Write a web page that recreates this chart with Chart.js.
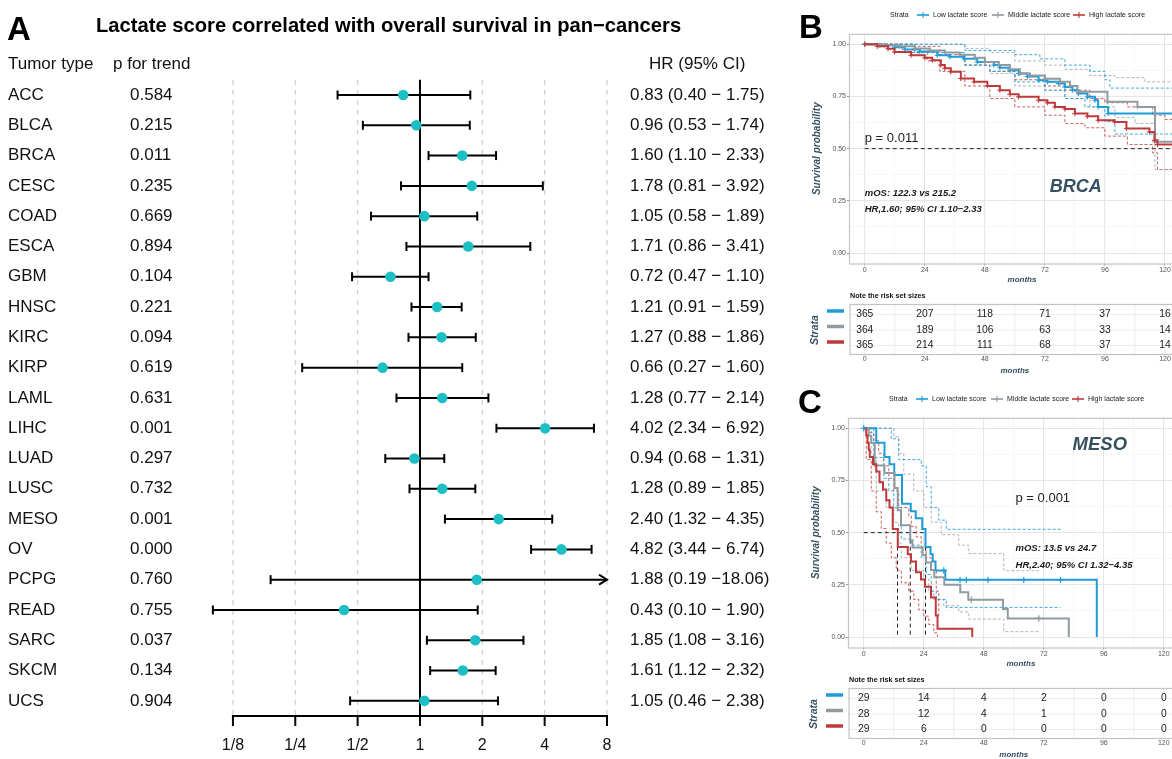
<!DOCTYPE html>
<html><head><meta charset="utf-8">
<script src="https://cdn.jsdelivr.net/npm/chart.js@4.4.1/dist/chart.umd.min.js"></script>
<style>
html,body{margin:0;padding:0;background:#fff;overflow:hidden;width:1172px;height:759px;position:relative;}
canvas{position:absolute;}
</style></head><body>
<canvas id="forest" width="780" height="759" style="left:0;top:0"></canvas>
<canvas id="kmB" width="420" height="380" style="left:780px;top:0"></canvas>
<canvas id="kmC" width="420" height="380" style="left:779px;top:384px"></canvas>
<script>
// ---------------- Panel A data ----------------
const tumorTypes = ['ACC','BLCA','BRCA','CESC','COAD','ESCA','GBM','HNSC','KIRC','KIRP','LAML','LIHC','LUAD','LUSC','MESO','OV','PCPG','READ','SARC','SKCM','UCS'];
const pTrend = ['0.584','0.215','0.011','0.235','0.669','0.894','0.104','0.221','0.094','0.619','0.631','0.001','0.297','0.732','0.001','0.000','0.760','0.755','0.037','0.134','0.904'];
const hrValues = [0.83,0.96,1.60,1.78,1.05,1.71,0.72,1.21,1.27,0.66,1.28,4.02,0.94,1.28,2.40,4.82,1.88,0.43,1.85,1.61,1.05];
const hrLower  = [0.40,0.53,1.10,0.81,0.58,0.86,0.47,0.91,0.88,0.27,0.77,2.34,0.68,0.89,1.32,3.44,0.19,0.10,1.08,1.12,0.46];
const hrUpper  = [1.75,1.74,2.33,3.92,1.89,3.41,1.10,1.59,1.86,1.60,2.14,6.92,1.31,1.85,4.35,6.74,18.06,1.90,3.16,2.32,2.38];
const axisTicks = [1/8,1/4,1/2,1,2,4,8];
const axisTickLabels = ['1/8','1/4','1/2','1','2','4','8'];

// ---------------- Panel B (BRCA) data: [months, survival] ----------------
const brcaLow  = [[0,1],[6,0.995],[12,0.985],[16,0.975],[22,0.965],[29,0.947],[34,0.94],[39.7,0.931],[45,0.915],[51.6,0.90],[54,0.888],[58,0.875],[61.5,0.86],[65,0.845],[69.5,0.828],[73,0.82],[77.4,0.812],[80,0.795],[83,0.78],[85.4,0.764],[89,0.748],[92,0.732],[93.3,0.70],[97.3,0.668],[135,0.668]];
const brcaMid  = [[0,1],[8,0.995],[14,0.99],[20,0.98],[26,0.97],[32,0.96],[38,0.95],[44,0.935],[48,0.915],[53.6,0.90],[58,0.88],[62,0.86],[66,0.85],[72,0.835],[78,0.82],[82,0.80],[85,0.772],[97,0.724],[109,0.70],[116,0.533],[135,0.533]];
const brcaHigh = [[0,1],[5,0.99],[9.3,0.979],[11.9,0.963],[18.5,0.947],[24,0.935],[27,0.923],[30.4,0.90],[32,0.885],[34.4,0.868],[38.4,0.836],[43.7,0.82],[49,0.80],[54,0.78],[58,0.76],[61.5,0.748],[69.5,0.732],[73,0.72],[76,0.70],[80,0.69],[84,0.668],[89,0.655],[93.3,0.636],[99.9,0.628],[104.6,0.597],[113.8,0.58],[115.8,0.54],[117,0.52],[135,0.52]];
const brcaLowUp  = [[0,1],[20,1.0],[40,0.97],[60,0.95],[70,0.93],[80,0.90],[90,0.87],[96,0.83],[98,0.79],[135,0.78]];
const brcaLowLo  = [[0,1],[20,0.96],[40,0.90],[50,0.87],[60,0.82],[72,0.78],[80,0.74],[88,0.70],[96,0.63],[100,0.57],[135,0.56]];
const brcaMidUp  = [[0,1],[20,1.0],[40,0.98],[50,0.96],[60,0.92],[72,0.90],[80,0.88],[90,0.85],[100,0.84],[112,0.82],[135,0.80]];
const brcaMidLo  = [[0,1],[20,0.96],[40,0.90],[50,0.86],[60,0.80],[72,0.78],[80,0.74],[90,0.70],[100,0.65],[108,0.62],[116,0.40],[135,0.40]];
const brcaHighUp = [[0,1],[20,0.99],[30,0.95],[40,0.90],[50,0.87],[60,0.83],[72,0.80],[80,0.78],[90,0.74],[96,0.72],[105,0.70],[115,0.66],[120,0.64],[135,0.64]];
const brcaHighLo = [[0,1],[15,0.96],[25,0.92],[30,0.87],[40,0.80],[50,0.74],[60,0.70],[72,0.66],[80,0.62],[88,0.60],[96,0.56],[105,0.52],[115,0.48],[117,0.40],[135,0.40]];
const brcaRiskLow  = [365,207,118,71,37,16];
const brcaRiskMid  = [364,189,106,63,33,14];
const brcaRiskHigh = [365,214,111,68,37,14];

// ---------------- Panel C (MESO) data ----------------
const mesoLow  = [[0,1],[5,0.931],[8.3,0.862],[10.3,0.828],[12.2,0.776],[15.3,0.638],[18.8,0.603],[20.8,0.569],[23.4,0.517],[24.7,0.431],[26.7,0.397],[27.6,0.362],[28.7,0.319],[32.6,0.274],[93.2,0]];
const mesoMid  = [[0,1],[2,0.964],[3,0.929],[4.4,0.821],[8.3,0.786],[12.3,0.714],[13.6,0.607],[14.9,0.536],[18.6,0.464],[19.5,0.429],[23.5,0.393],[24.9,0.357],[26.9,0.321],[28.2,0.286],[32.2,0.25],[38.6,0.214],[41.8,0.179],[55.7,0.134],[57.6,0.089],[82,0]];
const mesoHigh = [[0,1],[1,0.966],[1.5,0.931],[2,0.897],[2.4,0.862],[3.7,0.828],[5,0.793],[6.3,0.741],[7.7,0.707],[9,0.655],[10.3,0.621],[11.6,0.517],[13.6,0.431],[17.6,0.397],[18.9,0.362],[20.9,0.31],[22.9,0.276],[24.5,0.241],[26.9,0.19],[28.8,0.103],[29.5,0.04],[43.4,0]];
const mesoLowUp  = [[0,1],[11,0.95],[14,0.85],[23,0.82],[25,0.72],[27,0.62],[30,0.56],[33,0.516],[78.7,0.516]];
const mesoLowLo  = [[0,1],[4,0.86],[8,0.76],[10,0.70],[12,0.62],[15,0.47],[19,0.44],[23,0.38],[25,0.30],[27,0.22],[29,0.18],[33,0.142],[78.7,0.142]];
const mesoMidUp  = [[0,1],[12,0.96],[14,0.88],[16,0.78],[20,0.70],[24,0.62],[27,0.55],[31,0.49],[38,0.44],[42,0.40],[56,0.318],[70,0.318]];
const mesoMidLo  = [[0,1],[3,0.86],[5,0.70],[9,0.62],[12,0.55],[14,0.45],[15,0.38],[19,0.32],[24,0.28],[26,0.22],[28,0.18],[32,0.15],[38,0.12],[42,0.086],[56,0.026],[70,0.026]];
const mesoHighUp = [[0,1],[2,0.98],[4,0.94],[6,0.88],[8,0.82],[10,0.76],[12,0.70],[14,0.62],[18,0.58],[19,0.53],[21,0.48],[23,0.43],[25,0.38],[27,0.32],[29,0.22],[30,0.10]];
const mesoHighLo = [[0,1],[1,0.85],[3,0.70],[5,0.60],[7,0.52],[9,0.45],[11,0.38],[13,0.32],[15,0.26],[18,0.22],[20,0.18],[22,0.13],[24,0.10],[26,0.06],[28,0.02],[29.5,0]];
const mesoCensorLow = [[0,1],[32,0.319],[38.5,0.274],[41,0.274],[49.7,0.274],[64,0.274],[78.7,0.274]];
const mesoCensorMid = [[43,0.179],[70,0.089]];
const mesoRiskLow  = [29,14,4,2,0,0];
const mesoRiskMid  = [28,12,4,1,0,0];
const mesoRiskHigh = [29,6,0,0,0,0];

const strataLabels = ['Low lactate score','Middle lactate score','High lactate score'];
const kmTimeTicks = [0,24,48,72,96,120];

// ---------------- styling ----------------
const FONT = '"Liberation Sans", Arial, Helvetica, sans-serif';
const TEAL = '#1DBEC4';
const STRATA_COLORS = ['#1E9CD8','#8F9BA0','#BE3A3A'];
const CI_COLORS = ['rgba(30,156,216,0.85)','rgba(150,158,162,0.75)','rgba(190,58,58,0.8)'];
const SLATE = '#35505E';

// ================= Panel A: forest plot =================
const forestPlugin = {
  id: 'forestDeco',
  beforeDatasetsDraw(chart) {
    const {ctx, chartArea} = chart;
    const x = chart.scales.x, y = chart.scales.y;
    const top = chartArea.top, bot = chartArea.bottom;
    ctx.save();
    ctx.setLineDash([5,5]); ctx.strokeStyle = '#D2D2D2'; ctx.lineWidth = 1.3;
    axisTicks.forEach(v => {
      if (v === 1) return;
      const px = x.getPixelForValue(Math.log2(v));
      ctx.beginPath(); ctx.moveTo(px, top); ctx.lineTo(px, bot); ctx.stroke();
    });
    ctx.setLineDash([]);
    ctx.strokeStyle = '#000'; ctx.lineWidth = 2;
    const x1 = x.getPixelForValue(0);
    ctx.beginPath(); ctx.moveTo(x1, top); ctx.lineTo(x1, bot); ctx.stroke();
    const xa = x.getPixelForValue(Math.log2(axisTicks[0]));
    const xb = x.getPixelForValue(Math.log2(axisTicks[axisTicks.length-1]));
    ctx.beginPath(); ctx.moveTo(xa-1, bot); ctx.lineTo(xb+1, bot); ctx.stroke();
    ctx.fillStyle = '#111'; ctx.font = `16px ${FONT}`; ctx.textAlign = 'center'; ctx.textBaseline = 'middle';
    axisTicks.forEach((v,i) => {
      const px = x.getPixelForValue(Math.log2(v));
      ctx.beginPath(); ctx.moveTo(px, bot); ctx.lineTo(px, bot+10); ctx.stroke();
      ctx.fillText(axisTickLabels[i], px, bot+30);
    });
    // whiskers
    const maxV = axisTicks[axisTicks.length-1];
    tumorTypes.forEach((t,i) => {
      const py = y.getPixelForValue(i);
      const lo = x.getPixelForValue(Math.log2(hrLower[i]));
      const clipped = hrUpper[i] > maxV;
      const hi = x.getPixelForValue(Math.log2(clipped ? maxV : hrUpper[i]));
      ctx.lineWidth = 2; ctx.strokeStyle = '#000';
      ctx.beginPath(); ctx.moveTo(lo, py); ctx.lineTo(hi, py); ctx.stroke();
      ctx.beginPath(); ctx.moveTo(lo, py-4.5); ctx.lineTo(lo, py+4.5); ctx.stroke();
      if (clipped) {
        ctx.beginPath(); ctx.moveTo(hi-8, py-5); ctx.lineTo(hi, py); ctx.lineTo(hi-8, py+5); ctx.stroke();
      } else {
        ctx.beginPath(); ctx.moveTo(hi, py-4.5); ctx.lineTo(hi, py+4.5); ctx.stroke();
      }
    });
    ctx.restore();
  },
  afterDraw(chart) {
    const {ctx} = chart;
    const y = chart.scales.y;
    ctx.save();
    ctx.fillStyle = '#000'; ctx.textBaseline = 'alphabetic'; ctx.textAlign = 'left';
    ctx.font = `bold 33px ${FONT}`;
    ctx.fillText('A', 7, 40);
    ctx.font = `bold 20.2px ${FONT}`;
    ctx.fillText('Lactate score correlated with overall survival in pan\u2212cancers', 96, 32);
    ctx.font = `17px ${FONT}`; ctx.textBaseline = 'middle'; ctx.fillStyle = '#111';
    ctx.fillText('Tumor type', 8, 64);
    ctx.fillText('p for trend', 113, 64);
    ctx.fillText('HR (95% CI)', 649, 64);
    tumorTypes.forEach((t,i) => {
      const py = y.getPixelForValue(i);
      ctx.fillText(t, 8, py);
      ctx.fillText(pTrend[i], 130, py);
      const hiTxt = hrUpper[i] >= 10 ? '\u2212' + hrUpper[i].toFixed(2) : '\u2212 ' + hrUpper[i].toFixed(2);
      ctx.fillText(`${hrValues[i].toFixed(2)} (${hrLower[i].toFixed(2)} ${hiTxt})`, 630, py);
    });
    ctx.restore();
  }
};

new Chart(document.getElementById('forest'), {
  type: 'scatter',
  data: { datasets: [{
    data: hrValues.map((v,i) => ({x: Math.log2(v), y: i})),
    pointRadius: 5.3, pointBackgroundColor: TEAL, pointBorderWidth: 0, pointBorderColor: TEAL
  }]},
  options: {
    responsive: false, animation: false, events: [],
    layout: { padding: { left: 208, right: 173, top: 79.85, bottom: 43 } },
    plugins: { legend: { display: false }, tooltip: { enabled: false } },
    scales: {
      x: { type: 'linear', min: -3.4, max: 3, display: false },
      y: { type: 'linear', min: -0.5, max: 20.5, reverse: true, display: false }
    }
  },
  plugins: [forestPlugin]
});

// ================= KM panels =================
const toXY = arr => arr.map(p => ({x: p[0], y: p[1]}));
const isMajorY = v => Math.abs(v*4 - Math.round(v*4)) < 1e-6;
const isMajorX = v => Math.abs(v % 24) < 1e-6;

function kmPlugin(cfg) {
  return {
    id: 'kmDeco',
    beforeDatasetsDraw(chart) {
      const {ctx, chartArea} = chart;
      const x = chart.scales.x, y = chart.scales.y;
      ctx.save();
      ctx.beginPath(); ctx.rect(chartArea.left, chartArea.top, chartArea.right-chartArea.left, chartArea.bottom-chartArea.top); ctx.clip();
      ctx.setLineDash([4,3]); ctx.strokeStyle = '#222'; ctx.lineWidth = 1;
      const y5 = y.getPixelForValue(0.5);
      ctx.beginPath(); ctx.moveTo(x.getPixelForValue(0), y5); ctx.lineTo(x.getPixelForValue(cfg.medianEnd), y5); ctx.stroke();
      cfg.medians.forEach(t => {
        const px = x.getPixelForValue(t);
        ctx.beginPath(); ctx.moveTo(px, y5); ctx.lineTo(px, y.getPixelForValue(0)); ctx.stroke();
      });
      ctx.restore();
    },
    afterDraw(chart) {
      const {ctx, chartArea} = chart;
      const x = chart.scales.x, y = chart.scales.y;
      const W = chart.width;
      ctx.save();
      // panel border
      ctx.strokeStyle = '#C4C4C4'; ctx.lineWidth = 1.2;
      ctx.strokeRect(chartArea.left+0.5, chartArea.top+0.5, chartArea.right-chartArea.left, chartArea.bottom-chartArea.top);
      // annotations
      cfg.labels.forEach(l => {
        ctx.font = l.font; ctx.fillStyle = l.color; ctx.textAlign = l.align; ctx.textBaseline = 'middle';
        ctx.fillText(l.text, x.getPixelForValue(l.t), y.getPixelForValue(l.s));
      });
      // panel letter
      ctx.fillStyle = '#000'; ctx.textAlign = 'left'; ctx.textBaseline = 'alphabetic';
      ctx.font = `bold 33px ${FONT}`;
      ctx.fillText(cfg.letter, 19, cfg.letterY);
      // legend
      const LY = 15;
      ctx.font = `7px ${FONT}`; ctx.textBaseline = 'middle'; ctx.fillStyle = '#222';
      ctx.fillText('Strata', 110, LY);
      const lineX = [137, 212, 293], textX = [153, 228, 309];
      strataLabels.forEach((lab,i) => {
        ctx.strokeStyle = STRATA_COLORS[i]; ctx.lineWidth = 1.6;
        ctx.beginPath(); ctx.moveTo(lineX[i], LY); ctx.lineTo(lineX[i]+12, LY); ctx.stroke();
        ctx.lineWidth = 1.1;
        ctx.beginPath(); ctx.moveTo(lineX[i]+6, LY-3); ctx.lineTo(lineX[i]+6, LY+3); ctx.stroke();
        ctx.fillStyle = '#222';
        ctx.fillText(lab, textX[i], LY);
      });
      // risk table
      const boxTop = 304.5, boxBot = 354.5, rowY = [314.5, 330, 345.5];
      const left = chartArea.left + 1;
      ctx.font = `bold 7.2px ${FONT}`; ctx.fillStyle = '#111'; ctx.textAlign = 'left';
      ctx.fillText('Note the risk set sizes', left, 296);
      ctx.strokeStyle = '#EDEDED'; ctx.lineWidth = 1;
      for (let t = 0; t <= 132; t += 12) {
        const px = x.getPixelForValue(t);
        ctx.beginPath(); ctx.moveTo(px, boxTop); ctx.lineTo(px, boxBot); ctx.stroke();
      }
      rowY.forEach(ry => { ctx.beginPath(); ctx.moveTo(left, ry); ctx.lineTo(W, ry); ctx.stroke(); });
      ctx.strokeStyle = '#C4C4C4'; ctx.lineWidth = 1.2;
      ctx.strokeRect(left, boxTop, W + 10 - left, boxBot - boxTop);
      ctx.font = `10.3px ${FONT}`; ctx.fillStyle = '#222'; ctx.textAlign = 'center';
      cfg.risk.forEach((row,r) => {
        row.forEach((n,k) => ctx.fillText(String(n), x.getPixelForValue(kmTimeTicks[k]), rowY[r]));
        ctx.strokeStyle = STRATA_COLORS[r]; ctx.lineWidth = 3.5;
        ctx.beginPath(); ctx.moveTo(47, rowY[r] - 3.5); ctx.lineTo(64, rowY[r] - 3.5); ctx.stroke();
      });
      ctx.font = `7px ${FONT}`; ctx.fillStyle = '#555';
      kmTimeTicks.forEach(t => ctx.fillText(String(t), x.getPixelForValue(t), 359));
      ctx.font = `italic bold 8px ${FONT}`; ctx.fillStyle = SLATE;
      ctx.fillText('months', x.getPixelForValue(60), 371);
      ctx.save();
      ctx.translate(35, 330); ctx.rotate(-Math.PI/2);
      ctx.font = `italic bold 10.5px ${FONT}`; ctx.fillStyle = SLATE; ctx.textAlign = 'center';
      ctx.fillText('Strata', 0, 0);
      ctx.restore();
      ctx.restore();
    }
  };
}

function kmChart(id, cfg) {
  const datasets = [];
  cfg.censor.forEach((arr,i) => {
    if (!arr) return;
    datasets.push({ data: toXY(arr), showLine: false, pointStyle: 'cross', pointRadius: 3.2,
      pointBorderColor: STRATA_COLORS[i], pointBorderWidth: 1.2, borderColor: STRATA_COLORS[i], order: 0 });
  });
  cfg.curves.forEach((arr,i) => {
    datasets.push({ data: toXY(arr), stepped: true, borderColor: STRATA_COLORS[i], borderWidth: 2,
      pointStyle: 'cross', pointBorderColor: STRATA_COLORS[i], pointBorderWidth: 1,
      pointRadius: cfg.crossAll ? (c => c.dataIndex === arr.length-1 ? 0 : 2.6) : 0,
      fill: false, order: 3 - i });
  });
  cfg.ci.forEach((pair,i) => pair.forEach(arr => {
    datasets.push({ data: toXY(arr), stepped: true, borderColor: CI_COLORS[i], borderWidth: 1,
      borderDash: [3,2], pointRadius: 0, fill: false, order: 10 });
  }));
  new Chart(document.getElementById(id), {
    type: 'line',
    data: { datasets },
    options: {
      responsive: false, animation: false, events: [],
      layout: { padding: { left: 30, right: 2.5, top: 33.8, bottom: 92.5 } },
      plugins: { legend: { display: false }, tooltip: { enabled: false } },
      scales: {
        x: {
          type: 'linear', min: -6.3, max: 132,
          afterBuildTicks: s => { s.ticks = [0,12,24,36,48,60,72,84,96,108,120,132].map(v => ({value: v})); },
          afterFit: s => { s.height = 24; },
          border: { display: false },
          grid: {
            color: c => (c.tick && isMajorX(c.tick.value)) ? '#E6E6E6' : '#F2F2F2',
            lineWidth: c => (c.tick && isMajorX(c.tick.value)) ? 1.1 : 0.6,
            tickLength: 2,
            tickColor: c => (c.tick && isMajorX(c.tick.value)) ? '#9A9A9A' : 'rgba(0,0,0,0)'
          },
          ticks: { autoSkip: false, maxRotation: 0, padding: 0, color: '#555', font: { family: FONT, size: 7 },
            callback: v => isMajorX(v) ? String(v) : '' },
          title: { display: true, text: 'months', color: SLATE,
            font: { family: FONT, size: 8, style: 'italic', weight: 'bold' }, padding: { top: 0, bottom: 2.7 } }
        },
        y: {
          type: 'linear', min: -0.05, max: 1.05,
          afterBuildTicks: s => { s.ticks = [0,0.125,0.25,0.375,0.5,0.625,0.75,0.875,1].map(v => ({value: v})); },
          afterFit: s => { s.width = 39; },
          border: { display: false },
          grid: {
            color: c => (c.tick && isMajorY(c.tick.value)) ? '#E6E6E6' : '#F2F2F2',
            lineWidth: c => (c.tick && isMajorY(c.tick.value)) ? 1.1 : 0.6,
            tickLength: 2,
            tickColor: c => (c.tick && isMajorY(c.tick.value)) ? '#9A9A9A' : 'rgba(0,0,0,0)'
          },
          ticks: { autoSkip: false, padding: 1, color: '#555', font: { family: FONT, size: 7 },
            callback: v => isMajorY(v) ? v.toFixed(2) : '' },
          title: { display: true, text: 'Survival probability', color: SLATE,
            font: { family: FONT, size: 10, style: 'italic', weight: 'bold' }, padding: { top: 1, bottom: 0 } }
        }
      }
    },
    plugins: [kmPlugin(cfg)]
  });
}

kmChart('kmB', {
  letter: 'B', letterY: 38,
  curves: [brcaLow, brcaMid, brcaHigh],
  ci: [[brcaLowUp, brcaLowLo], [brcaMidUp, brcaMidLo], [brcaHighUp, brcaHighLo]],
  censor: [null, null, null],
  crossAll: true,
  medianEnd: 135, medians: [],
  risk: [brcaRiskLow, brcaRiskMid, brcaRiskHigh],
  labels: [
    { text: 'p = 0.011', t: 0, s: 0.55, font: `13px ${FONT}`, color: '#222', align: 'left' },
    { text: 'mOS: 122.3 vs 215.2', t: 0, s: 0.288, font: `italic bold 9.5px ${FONT}`, color: '#1A1A1A', align: 'left' },
    { text: 'HR,1.60; 95% CI 1.10\u22122.33', t: 0, s: 0.21, font: `italic bold 9.5px ${FONT}`, color: '#1A1A1A', align: 'left' },
    { text: 'BRCA', t: 84.3, s: 0.317, font: `italic bold 18px ${FONT}`, color: SLATE, align: 'center' }
  ]
});

kmChart('kmC', {
  letter: 'C', letterY: 29,
  curves: [mesoLow, mesoMid, mesoHigh],
  ci: [[mesoLowUp, mesoLowLo], [mesoMidUp, mesoMidLo], [mesoHighUp, mesoHighLo]],
  censor: [mesoCensorLow, mesoCensorMid, null],
  crossAll: false,
  medianEnd: 24.7, medians: [13.5, 18.6, 24.7],
  risk: [mesoRiskLow, mesoRiskMid, mesoRiskHigh],
  labels: [
    { text: 'p = 0.001', t: 60.7, s: 0.666, font: `13px ${FONT}`, color: '#222', align: 'left' },
    { text: 'mOS: 13.5 vs 24.7', t: 60.7, s: 0.426, font: `italic bold 9.5px ${FONT}`, color: '#1A1A1A', align: 'left' },
    { text: 'HR,2.40; 95% CI 1.32\u22124.35', t: 60.7, s: 0.345, font: `italic bold 9.5px ${FONT}`, color: '#1A1A1A', align: 'left' },
    { text: 'MESO', t: 94.4, s: 0.92, font: `italic bold 18.5px ${FONT}`, color: SLATE, align: 'center' }
  ]
});
</script>
</body></html>
